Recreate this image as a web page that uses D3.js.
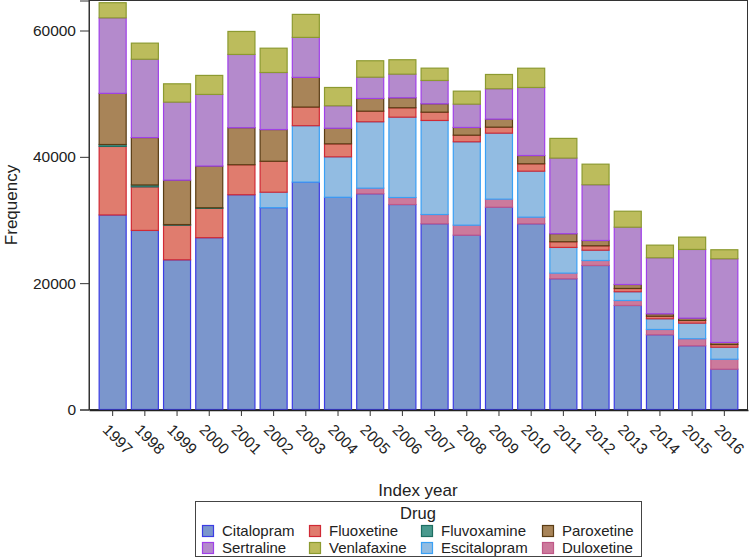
<!DOCTYPE html>
<html><head><meta charset="utf-8">
<script src="https://cdn.jsdelivr.net/npm/d3@7"></script>
<style>body{margin:0;background:#fff}svg{display:block;font-family:"Liberation Sans",Arial,sans-serif}</style>
</head><body><svg id="c" width="749" height="558"></svg>
<script>
const years = ["1997","1998","1999","2000","2001","2002","2003","2004","2005","2006","2007","2008","2009","2010","2011","2012","2013","2014","2015","2016"];
const drugs = ["Citalopram","Duloxetine","Escitalopram","Fluoxetine","Fluvoxamine","Paroxetine","Sertraline","Venlafaxine"];
const legendOrder = ["Citalopram","Fluoxetine","Fluvoxamine","Paroxetine","Sertraline","Venlafaxine","Escitalopram","Duloxetine"];
const citalopram   = [30800,28350,23700,27200,34000,31950,36000,33600,34150,32450,29400,27600,32030,29400,20700,22800,16470,11830,10090,6380];
const duloxetine   = [0,0,0,0,0,0,0,0,890,1110,1470,1580,1270,1050,890,790,790,840,1110,1580];
const escitalopram = [0,0,0,0,0,2450,8930,6400,10510,12720,14890,13200,10450,7280,4070,1630,1380,1690,2470,1900];
const fluoxetine   = [10850,6900,5480,4640,4750,4900,2950,2060,1680,1490,1310,1050,950,1170,900,700,520,410,430,430];
const fluvoxamine  = [300,300,100,100,0,0,0,0,0,0,0,0,0,0,0,0,0,0,0,0];
const paroxetine   = [8100,7500,7030,6600,5860,5020,4700,2470,2010,1580,1330,1220,1270,1310,1270,840,630,380,360,320];
const sertraline   = [11950,12400,12350,11340,11600,9030,6330,3550,3370,3740,3690,3690,4810,10770,11970,8820,9070,8870,10880,13250];
const venlafaxine  = [2400,2550,2900,3010,3640,3850,3640,2900,2600,2280,1950,2060,2260,3050,3120,3260,2530,2000,1950,1430];
const yTicks = [0,20000,40000,60000];

const series = {Citalopram:citalopram,Duloxetine:duloxetine,Escitalopram:escitalopram,Fluoxetine:fluoxetine,Fluvoxamine:fluvoxamine,Paroxetine:paroxetine,Sertraline:sertraline,Venlafaxine:venlafaxine};
const fills = {Citalopram:"#7b96cc",Duloxetine:"#cc7a9c",Escitalopram:"#92bce2",Fluoxetine:"#e07c6e",Fluvoxamine:"#4a9a8e",Paroxetine:"#a88458",Sertraline:"#b48acc",Venlafaxine:"#bcbc5c"};
const strokes = {Citalopram:"#3c3ce4",Duloxetine:"#c05888",Escitalopram:"#3aa0f5",Fluoxetine:"#d02a35",Fluvoxamine:"#1e6e62",Paroxetine:"#5a3c14",Sertraline:"#a040e8",Venlafaxine:"#8c9a30"};

const table = years.map((y,i)=>{const r={year:y};drugs.forEach(d=>r[d]=series[d][i]);return r;});
const stack = d3.stack().keys(drugs)(table);

const L=89,R=748,T=0.5,B=409.5;
const svg=d3.select("#c");
const x=d3.scaleBand().domain(years).range([L,R]).paddingInner(0.13).paddingOuter(0.3);
const y=d3.scaleLinear().domain([0,64750]).range([B,T]);

svg.append("rect").attr("x",L).attr("y",T).attr("width",R-L-0.5).attr("height",B-T).attr("fill","none").attr("stroke","#333").attr("stroke-width",1);

const g=svg.append("g");
stack.forEach(s=>{
  g.selectAll(null).data(s).join("rect")
   .attr("x",d=>x(d.data.year)+0.5).attr("width",x.bandwidth()-1)
   .attr("y",d=>y(d[1])).attr("height",d=>Math.max(0,y(d[0])-y(d[1])))
   .attr("fill",fills[s.key]).attr("stroke",strokes[s.key]).attr("stroke-width",1.2)
   .attr("display",d=>d[1]-d[0]>0?null:"none");
});

const ya=svg.append("g").attr("transform",`translate(${L},0)`).call(d3.axisLeft(y).tickValues(yTicks).tickSize(9).tickPadding(4).tickFormat(d3.format("d")));
ya.select(".domain").attr("stroke","#333");
ya.selectAll("line").attr("stroke","#333");
ya.selectAll("text").attr("font-size",15.5).attr("fill","#222").attr("font-family","Liberation Sans, Arial, sans-serif");

const xa=svg.append("g").attr("transform",`translate(0,${B+0.5})`).call(d3.axisBottom(x).tickSize(6).tickSizeOuter(0));
xa.select(".domain").attr("stroke","#222").attr("stroke-width",1.5);
xa.selectAll("line").attr("stroke","#333");
xa.selectAll("text").attr("font-size",15.5).attr("fill","#222").attr("font-family","Liberation Sans, Arial, sans-serif")
  .attr("text-anchor","start").attr("transform","translate(-7,17) rotate(45)").attr("dy","0.35em").attr("y",0);

svg.append("text").attr("x",418).attr("y",496).attr("text-anchor","middle").attr("font-size",17).attr("fill","#222").text("Index year");
svg.append("text").attr("transform","translate(17,205) rotate(-90)").attr("text-anchor","middle").attr("font-size",17).attr("fill","#222").text("Frequency");

const lg=svg.append("g");
lg.append("rect").attr("x",195.5).attr("y",501.5).attr("width",446).attr("height",55).attr("fill","#fff").attr("stroke","#444");
lg.append("text").attr("x",418).attr("y",519).attr("text-anchor","middle").attr("font-size",16.5).attr("fill","#222").text("Drug");
const colX=[202,309,421,542], rowY=[531,548];
legendOrder.forEach((d,i)=>{
  const cx=colX[i%4], cy=rowY[Math.floor(i/4)];
  lg.append("rect").attr("x",cx+0.5).attr("y",cy-5.5).attr("width",11).attr("height",11).attr("fill",fills[d]).attr("stroke",strokes[d]).attr("stroke-width",1.2);
  lg.append("text").attr("x",cx+20).attr("y",cy).attr("dy","0.36em").attr("font-size",15).attr("fill","#222").text(d);
});
</script></body></html>
